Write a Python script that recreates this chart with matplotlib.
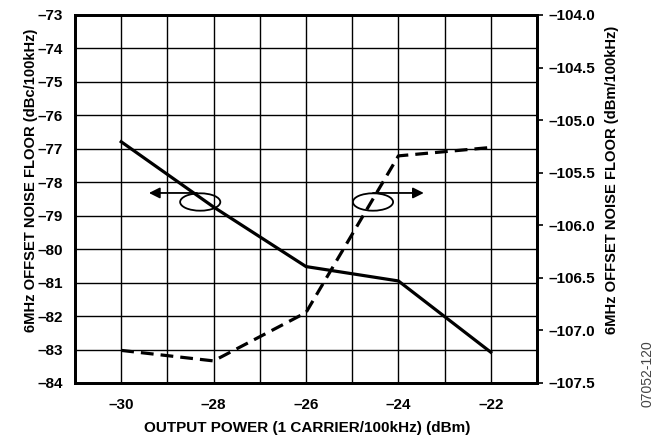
import numpy as np
import matplotlib.pyplot as plt
from matplotlib.patches import Ellipse
from matplotlib.ticker import FuncFormatter, MultipleLocator

plt.rcParams["font.family"] = ["Liberation Sans", "DejaVu Sans"]
plt.rcParams["font.weight"] = "bold"

# output power sweep (dBm)
power = [-30, -28, -26, -24, -22]
# noise floor, left axis (dBc/100kHz)
noise_dbc = [-76.79, -78.74, -80.52, -80.95, -83.08]
# noise floor, right axis (dBm/100kHz)
noise_dbm = [-107.19, -107.29, -106.83, -105.34, -105.26]

x_ticks = [-30, -28, -26, -24, -22]


def dash_fmt(decimals):
    def f(v, pos):
        s = f"{v:.{decimals}f}"
        return s.replace("-", "\u2013")
    return FuncFormatter(f)


fig = plt.figure(figsize=(6.54, 4.37), dpi=100)
ax = fig.add_axes([0.1147, 0.1236, 0.7064, 0.8421])

ax.set_xlim(-31, -21)
ax.set_ylim(-84, -73)
ax.yaxis.set_major_locator(MultipleLocator(1))
ax.set_xticks(x_ticks)
ax.set_xticks(np.arange(-31, -20, 1), minor=True)
ax.grid(True, which="both", color="black", linewidth=1.0)
ax.set_axisbelow(True)

ax.xaxis.set_major_formatter(dash_fmt(0))
ax.yaxis.set_major_formatter(dash_fmt(0))
ax.tick_params(axis="x", which="both", length=0, labelsize=11, pad=10.5)
ax.tick_params(axis="y", which="both", length=0, labelsize=11, pad=9)
for lbl in ax.get_xticklabels() + ax.get_yticklabels():
    lbl.set_fontweight("bold")

for sp in ax.spines.values():
    sp.set_linewidth(2.0)

ax.plot(power, noise_dbc, color="black", linewidth=2.3, solid_joinstyle="miter")

ax2 = ax.twinx()
ax2.set_ylim(-107.5, -104.0)
ax2.yaxis.set_major_locator(MultipleLocator(0.5))
ax2.yaxis.set_major_formatter(dash_fmt(1))
ax2.tick_params(axis="y", direction="out", length=4, width=1.2, labelsize=11, pad=4)
for lbl in ax2.get_yticklabels():
    lbl.set_fontweight("bold")
for sp in ax2.spines.values():
    sp.set_linewidth(2.0)
ax2.plot(power, noise_dbm, color="black", linewidth=2.3, linestyle=(0, (4, 2.2)))

# ellipse markers with arrows pointing to their axes
for cx, x_end in [(-28.29, -29.4), (-24.55, -23.45)]:
    ax.add_patch(Ellipse((cx, -78.59), 0.87, 0.52, fill=False,
                         edgecolor="black", linewidth=1.3))
    ax.annotate("", xy=(x_end, -78.32), xytext=(cx - 0.07 if x_end < cx else cx, -78.32),
                arrowprops=dict(arrowstyle="-|>", color="black", lw=1.3,
                                mutation_scale=16, shrinkA=0, shrinkB=0))

fig.text(307 / 654, 1 - 428 / 437, "OUTPUT POWER (1 CARRIER/100kHz) (dBm)",
         fontsize=11, fontweight="bold", ha="center", va="center")
fig.text(31 / 654, 1 - 180 / 437, "6MHz OFFSET NOISE FLOOR (dBc/100kHz)",
         rotation=90, fontsize=10.6, fontweight="bold", ha="center", va="center")
fig.text(612 / 654, 1 - 180 / 437, "6MHz OFFSET NOISE FLOOR (dBm/100kHz)",
         rotation=90, fontsize=10.6, fontweight="bold", ha="center", va="center")

fig.text(647 / 654, 1 - 407 / 437, "07052-120", rotation=90, fontsize=10,
         fontweight="normal", color="#444444", ha="center", va="bottom")

fig.savefig("out.png", dpi=100)
